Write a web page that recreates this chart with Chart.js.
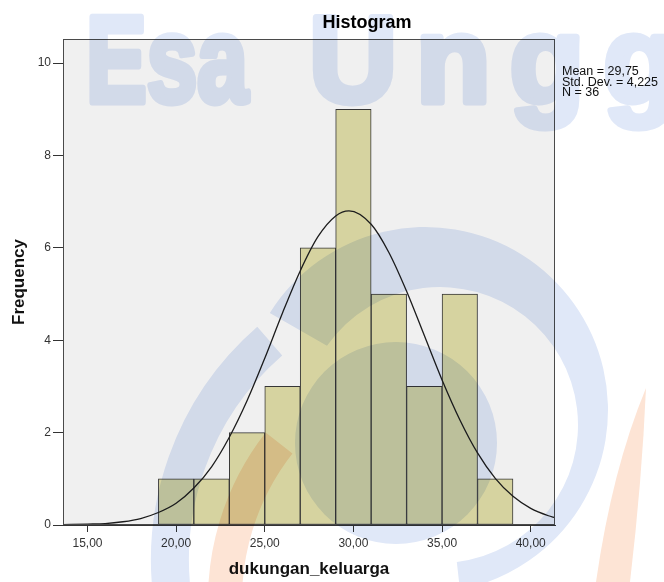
<!DOCTYPE html>
<html>
<head>
<meta charset="utf-8">
<title>Histogram</title>
<script src="https://cdn.jsdelivr.net/npm/chart.js@4.4.1/dist/chart.umd.min.js"></script>
<style>
    body { margin: 0; background: #ffffff; }
    canvas { display: block; }
</style>
</head>
<body>
<canvas id="histChart" width="664" height="582"></canvas>
<script>
// bins of width 2, given by their centres
const binCenters = [20, 22, 24, 26, 28, 30, 32, 34, 36, 38];
const frequencies = [1, 1, 2, 3, 6, 9, 5, 3, 5, 1];

// normal curve
const curveX = [13.62, 15, 16, 17, 18, 19, 20, 21, 22, 23, 24, 25, 26, 27, 28, 29, 29.75, 31, 32, 33, 34, 35, 36, 37, 38, 39, 40, 41, 41.37];
const curveY = [0.01, 0.02, 0.03, 0.07, 0.14, 0.27, 0.47, 0.80, 1.26, 1.90, 2.69, 3.61, 4.59, 5.50, 6.24, 6.69, 6.80, 6.51, 5.90, 5.06, 4.10, 3.14, 2.28, 1.56, 1.01, 0.62, 0.36, 0.20, 0.16];

const xTicks = [15, 20, 25, 30, 35, 40];
const yTicks = [0, 2, 4, 6, 8, 10];
const statLines = ["Mean = 29,75", "Std. Dev. = 4,225", "N = 36"];

var fontName = '"Liberation Sans", Arial, sans-serif';

var barPoints = binCenters.map(function (x, i) { return {x: x, y: frequencies[i]}; });
var curvePoints = curveX.map(function (x, i) { return {x: x, y: curveY[i]}; });

var plotBox = {
    id: 'plotBox',
    beforeDraw: function (chart) {
        var a = chart.chartArea, ctx = chart.ctx;
        ctx.save();
        ctx.fillStyle = '#f0f0f0';
        ctx.fillRect(a.left, a.top, a.right - a.left, a.bottom - a.top);
        ctx.restore();
    },
    afterDatasetsDraw: function (chart) {
        var a = chart.chartArea, ctx = chart.ctx;
        ctx.save();
        ctx.strokeStyle = '#4a4a4a';
        ctx.lineWidth = 1;
        ctx.strokeRect(Math.round(a.left) + 0.5, Math.round(a.top) + 0.5,
            Math.round(a.right - a.left) - 1, Math.round(a.bottom - a.top) - 1);
        ctx.restore();
    },
    afterDraw: function (chart) {
        var ctx = chart.ctx;
        ctx.save();
        ctx.fillStyle = '#000000';
        ctx.textAlign = 'center';
        ctx.textBaseline = 'middle';
        ctx.font = 'bold 18px ' + fontName;
        ctx.fillText('Histogram', 367, 23);

        ctx.textAlign = 'left';
        ctx.font = '12.5px ' + fontName;
        ctx.fillStyle = '#111111';
        for (var i = 0; i < statLines.length; i++) {
            ctx.fillText(statLines[i], 562, 72 + i * 10.3);
        }
        ctx.restore();
    }
};

// the light "Esa Unggul" logo that lies over the whole picture
function makeLayer() {
    var c = document.createElement('canvas');
    c.width = 664;
    c.height = 582;
    return c;
}

var watermark = {
    id: 'watermark',
    afterDraw: function (chart) {
        var ctx = chart.ctx;
        var d = Math.PI / 180;

        var blueLayer = makeLayer();
        var b = blueLayer.getContext('2d');
        b.fillStyle = '#e0e8f8';
        b.strokeStyle = '#e0e8f8';
        b.lineJoin = 'round';
        b.textAlign = 'left';
        b.textBaseline = 'alphabetic';
        b.font = 'bold 122px ' + fontName;
        b.lineWidth = 7;
        b.fillText('Esa', 86, 102, 162);
        b.strokeText('Esa', 86, 102, 162);
        b.letterSpacing = '19px';
        b.fillText('Unggu', 309, 102);
        b.strokeText('Unggu', 309, 102);
        b.letterSpacing = '0px';

        // left swoosh
        b.lineWidth = 38;
        b.beginPath();
        b.arc(460, 560, 290, 170 * d, 229 * d);
        b.stroke();

        // upper right crescent
        b.beginPath();
        b.arc(425, 410, 183, -148 * d, 79 * d);
        b.arc(440, 425, 138, 83 * d, -145 * d, true);
        b.closePath();
        b.fill();

        // centre disc
        b.beginPath();
        b.arc(396, 443, 101, 0, Math.PI * 2);
        b.fill();

        var orangeLayer = makeLayer();
        var o = orangeLayer.getContext('2d');
        o.strokeStyle = '#fde4d5';
        o.fillStyle = '#fde4d5';
        o.lineWidth = 34;
        o.beginPath();
        o.arc(480, 600, 255, 176 * d, 218 * d);
        o.stroke();

        o.beginPath();
        o.moveTo(646, 388);
        o.quadraticCurveTo(642, 480, 630, 582);
        o.lineTo(596, 582);
        o.quadraticCurveTo(612, 470, 646, 388);
        o.closePath();
        o.fill();

        ctx.save();
        ctx.globalCompositeOperation = 'multiply';
        ctx.drawImage(blueLayer, 0, 0);
        ctx.drawImage(orangeLayer, 0, 0);
        ctx.restore();
    }
};

var ctx = document.getElementById('histChart');

var histChart = new Chart(ctx, {
    type: 'bar',
    data: {
        datasets: [
            {
                type: 'line',
                data: curvePoints,
                borderColor: '#1c1c1c',
                borderWidth: 1.3,
                pointRadius: 0,
                fill: false,
                cubicInterpolationMode: 'monotone',
                order: 0
            },
            {
                type: 'bar',
                data: barPoints,
                backgroundColor: '#d6d3a0',
                borderColor: '#363636',
                borderWidth: 1,
                borderSkipped: false,
                barPercentage: 1,
                categoryPercentage: 1,
                order: 1
            }]
    },
    options: {
        responsive: false,
        animation: false,
        events: [],
        layout: {padding: {top: 39, right: 109, left: 0, bottom: 0}},
        plugins: {legend: {display: false}, tooltip: {enabled: false}, title: {display: false}},
        scales: {
            x: {
                type: 'linear',
                min: 13.62,
                max: 41.37,
                offset: false,
                afterBuildTicks: function (scale) {
                    scale.ticks = xTicks.map(function (v) { return {value: v}; });
                },
                afterFit: function (scale) { scale.height = 57; },
                grid: {drawOnChartArea: false, offset: false, tickLength: 7, color: '#333333'},
                border: {color: '#333333'},
                ticks: {
                    autoSkip: false,
                    maxRotation: 0,
                    padding: 4,
                    color: '#333333',
                    font: {family: fontName, size: 12},
                    callback: function (v) { return v.toFixed(2).replace('.', ','); }
                },
                title: {
                    display: true,
                    text: 'dukungan_keluarga',
                    color: '#111111',
                    font: {family: fontName, size: 17, weight: 'bold'},
                    padding: {top: 0, bottom: 2}
                }
            },
            y: {
                min: 0,
                max: 10.52,
                afterBuildTicks: function (scale) {
                    scale.ticks = yTicks.map(function (v) { return {value: v}; });
                },
                afterFit: function (scale) { scale.width = 63; },
                grid: {drawOnChartArea: false, tickLength: 10, color: '#333333'},
                border: {color: '#333333'},
                ticks: {
                    padding: 2,
                    color: '#333333',
                    font: {family: fontName, size: 12}
                },
                title: {
                    display: true,
                    text: 'Frequency',
                    color: '#111111',
                    font: {family: fontName, size: 17, weight: 'bold'},
                    padding: {top: 9, bottom: 0}
                }
            }
        }
    },
    plugins: [plotBox, watermark]
});
</script>
</body>
</html>
